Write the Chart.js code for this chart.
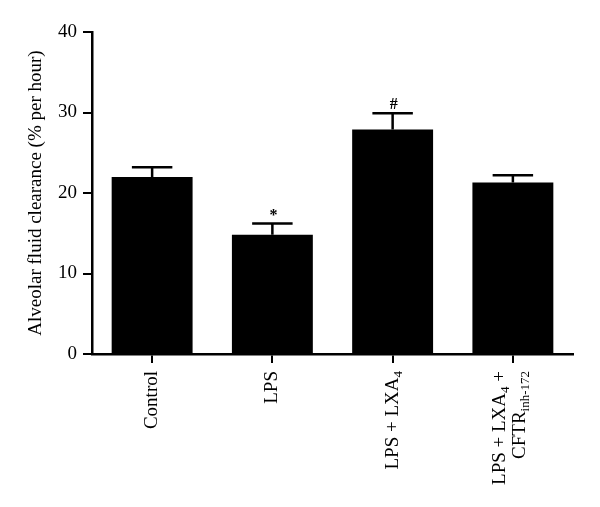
<!DOCTYPE html>
<html>
<head>
<meta charset="utf-8">
<script src="https://cdn.jsdelivr.net/npm/chart.js@4/dist/chart.umd.min.js"></script>
<style>
  body { margin: 0; background: #fff; }
  #wrap { width: 600px; height: 507px; position: relative; }
</style>
</head>
<body>
<div id="wrap"><canvas id="myChart"></canvas></div>
<script>
// data
var groups = ['Control', 'LPS', 'LPS + LXA4', 'LPS + LXA4 + CFTRinh-172']
// "_" marks a subscript up to the next space
var groupLabels = [['Control'], ['LPS'], ['LPS + LXA_4'], ['LPS + LXA_4 +', 'CFTR_inh-172']]
var clearance = [22.0, 14.8, 27.9, 21.3]
var errTop = [23.2, 16.2, 29.9, 22.2]
var marks = ['', '*', '#', '']
var yTicks = [0, 10, 20, 30, 40]

var serif = "'Liberation Serif', 'DejaVu Serif', serif"
Chart.defaults.font.family = serif
Chart.defaults.color = '#000'

function splitSub(str){
    var parts = []
    var re = /_(\S+)/g
    var last = 0, m
    while((m = re.exec(str)) !== null){
        if(m.index > last) parts.push([str.slice(last, m.index), false])
        parts.push([m[1], true])
        last = re.lastIndex
    }
    if(last < str.length) parts.push([str.slice(last), false])
    return parts
}

// error bars + significance marks
var errorBars = {
    id: 'errorBars',
    afterDatasetsDraw: function(chart){
        var ctx = chart.ctx
        var meta = chart.getDatasetMeta(0)
        var ys = chart.scales.y
        ctx.save()
        ctx.strokeStyle = '#000'
        ctx.lineWidth = 2.5
        meta.data.forEach(function(bar, i){
            var top = ys.getPixelForValue(errTop[i])
            var half = bar.width / 4
            ctx.beginPath()
            ctx.moveTo(bar.x, bar.y)
            ctx.lineTo(bar.x, top)
            ctx.moveTo(bar.x - half, top)
            ctx.lineTo(bar.x + half, top)
            ctx.stroke()
            if(marks[i]){
                ctx.fillStyle = '#000'
                ctx.font = 'bold 16px ' + serif
                ctx.textAlign = 'center'
                ctx.textBaseline = 'alphabetic'
                ctx.fillText(marks[i], bar.x + 1, top - 4)
            }
        })
        ctx.restore()
    }
}

// rotated category labels with subscripts
var xLabels = {
    id: 'xLabels',
    afterDraw: function(chart){
        var ctx = chart.ctx
        var xs = chart.scales.x
        var yTop = chart.chartArea.bottom + 17
        var size = 19, subSize = 13
        ctx.save()
        ctx.fillStyle = '#000'
        ctx.textBaseline = 'middle'
        ctx.textAlign = 'left'
        groupLabels.forEach(function(lines, i){
            var cx = xs.getPixelForTick(i)
            var n = lines.length
            lines.forEach(function(line, j){
                var parts = splitSub(line)
                var w = 0
                parts.forEach(function(p){
                    ctx.font = (p[1] ? subSize : size) + 'px ' + serif
                    w += ctx.measureText(p[0]).width
                })
                var off = n > 1 ? (j === 0 ? -13 : 7) : 0
                ctx.save()
                ctx.translate(cx + off, yTop)
                ctx.rotate(-Math.PI / 2)
                var pos = -w
                parts.forEach(function(p){
                    ctx.font = (p[1] ? subSize : size) + 'px ' + serif
                    ctx.fillText(p[0], pos, p[1] ? 6 : 0)
                    pos += ctx.measureText(p[0]).width
                })
                ctx.restore()
            })
        })
        ctx.restore()
    }
}

var ctx = document.getElementById('myChart').getContext('2d')
var Chart1 = new Chart(ctx, {
    type: 'bar',
    plugins: [errorBars, xLabels],
    data: {
        labels: groups,
        datasets: [{
            data: clearance,
            backgroundColor: '#000',
            borderWidth: 0,
            categoryPercentage: 1,
            barPercentage: 0.673
        }]
    },
    options: {
        responsive: true,
        maintainAspectRatio: false,
        animation: false,
        layout: { padding: { top: 32, right: 27, bottom: 0, left: 0 } },
        plugins: {
            legend: { display: false },
            tooltip: { enabled: false }
        },
        scales: {
            x: {
                offset: true,
                afterFit: function(s){ s.height = 153 },
                ticks: { display: false },
                grid: {
                    offset: false,
                    drawOnChartArea: false,
                    drawTicks: true,
                    tickLength: 9,
                    lineWidth: 2,
                    color: '#000'
                },
                border: { display: true, color: '#000', width: 2.5 }
            },
            y: {
                min: 0,
                max: 40,
                afterFit: function(s){ s.width = 92 },
                afterBuildTicks: function(s){
                    s.ticks = yTicks.map(function(v){ return { value: v } })
                },
                ticks: {
                    font: { size: 19 },
                    padding: 6,
                    color: '#000'
                },
                grid: {
                    drawOnChartArea: false,
                    drawTicks: true,
                    tickLength: 9,
                    lineWidth: 2,
                    color: '#000'
                },
                border: { display: true, color: '#000', width: 2.5 },
                title: {
                    display: true,
                    text: 'Alveolar fluid clearance (% per hour)',
                    font: { size: 19 },
                    color: '#000',
                    padding: { top: 25, bottom: 0 }
                }
            }
        }
    }
})
</script>
</body>
</html>
